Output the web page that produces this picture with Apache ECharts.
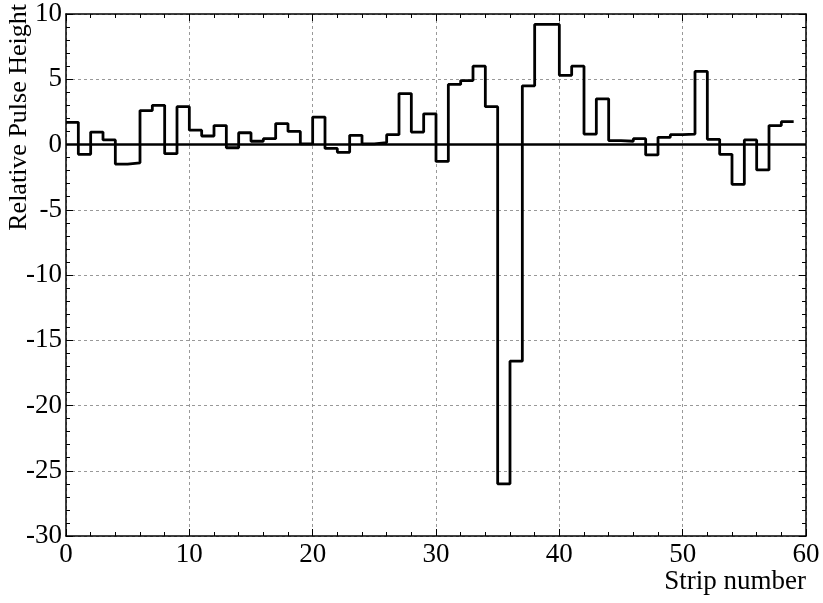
<!DOCTYPE html>
<html>
<head>
<meta charset="utf-8">
<script src="https://cdn.jsdelivr.net/npm/echarts@6/dist/echarts.min.js"></script>
<style>
  html, body { margin: 0; padding: 0; background: #fff; }
  #chart { width: 823px; height: 603px; }
</style>
</head>
<body>
<div id="chart"></div>
<script>
// relative pulse height per strip (strip i covers [i, i+1])
const pulseHeight = [
  1.7, -0.75, 0.95, 0.35, -1.5, -1.4, 2.6, 3.0, -0.7, 2.9,
  1.1, 0.65, 1.45, -0.25, 0.9, 0.25, 0.45, 1.6, 1.0, 0.05,
  2.1, -0.3, -0.6, 0.7, 0.05, 0.15, 0.75, 3.9, 0.95, 2.35,
  -1.3, 4.6, 4.9, 6.0, 2.9, -26.0, -16.6, 4.5, 9.2, 9.2,
  5.3, 6.0, 0.8, 3.5, 0.3, 0.25, 0.45, -0.8, 0.55, 0.75,
  0.8, 5.6, 0.4, -0.75, -3.05, 0.35, -1.95, 1.45, 1.75
]
const xTicks = [0, 10, 20, 30, 40, 50, 60]
const yTicks = [-30, -25, -20, -15, -10, -5, 0, 5, 10]

const font = 'Liberation Serif'

// step points: left edge of every strip, plus the right edge of the last one
const points = pulseHeight.map((v, i) => [i, v])
points.push([pulseHeight.length, pulseHeight[pulseHeight.length - 1]])

const chart = echarts.init(document.getElementById('chart'))

const gridLine = { show: true, lineStyle: { color: '#999', width: 1, type: [3, 3] } }
const axisLine = { show: true, onZero: false, lineStyle: { color: '#000', width: 1.5 } }
const tick = { show: true, inside: true, length: 7, lineStyle: { color: '#000', width: 1 } }
const minor = { show: true, splitNumber: 5, length: 4, lineStyle: { color: '#000', width: 1 } }

const option = {
  animation: false,
  backgroundColor: '#fff',
  grid: { left: 66, right: 17, top: 14, bottom: 67, containLabel: false, outerBoundsMode: 'none' },
  xAxis: [
    {
      type: 'value',
      min: xTicks[0],
      max: xTicks[xTicks.length - 1],
      interval: 10,
      position: 'bottom',
      axisLine: axisLine,
      axisTick: tick,
      minorTick: minor,
      axisLabel: { color: '#000', fontFamily: font, fontSize: 27, margin: 5 },
      splitLine: gridLine,
      name: 'Strip number',
      nameLocation: 'end',
      nameGap: 0,
      nameTextStyle: {
        color: '#000', fontFamily: font, fontSize: 27,
        align: 'right', verticalAlign: 'top', padding: [32, 0, 0, 0]
      }
    },
    {
      type: 'value',
      min: xTicks[0],
      max: xTicks[xTicks.length - 1],
      interval: 10,
      position: 'top',
      axisLine: axisLine,
      axisTick: tick,
      minorTick: minor,
      axisLabel: { show: false },
      splitLine: { show: false }
    }
  ],
  yAxis: [
    {
      type: 'value',
      min: yTicks[0],
      max: yTicks[yTicks.length - 1],
      interval: 5,
      position: 'left',
      axisLine: axisLine,
      axisTick: tick,
      minorTick: minor,
      axisLabel: { color: '#000', fontFamily: font, fontSize: 27, margin: 4 },
      splitLine: gridLine,
      name: 'Relative Pulse Height',
      nameLocation: 'end',
      nameRotate: 90,
      nameGap: 10,
      nameTextStyle: {
        color: '#000', fontFamily: font, fontSize: 26,
        align: 'right', verticalAlign: 'bottom', padding: [0, 0, 34, 0]
      }
    },
    {
      type: 'value',
      min: yTicks[0],
      max: yTicks[yTicks.length - 1],
      interval: 5,
      position: 'right',
      axisLine: axisLine,
      axisTick: tick,
      minorTick: minor,
      axisLabel: { show: false },
      splitLine: { show: false }
    }
  ],
  series: [
    {
      type: 'line',
      step: 'end',
      data: points,
      showSymbol: false,
      lineStyle: { color: '#000', width: 2.8 },
      markLine: {
        silent: true,
        symbol: 'none',
        label: { show: false },
        lineStyle: { color: '#000', width: 2.5, type: 'solid' },
        data: [{ yAxis: 0 }]
      }
    }
  ]
}

chart.setOption(option)
</script>
</body>
</html>
